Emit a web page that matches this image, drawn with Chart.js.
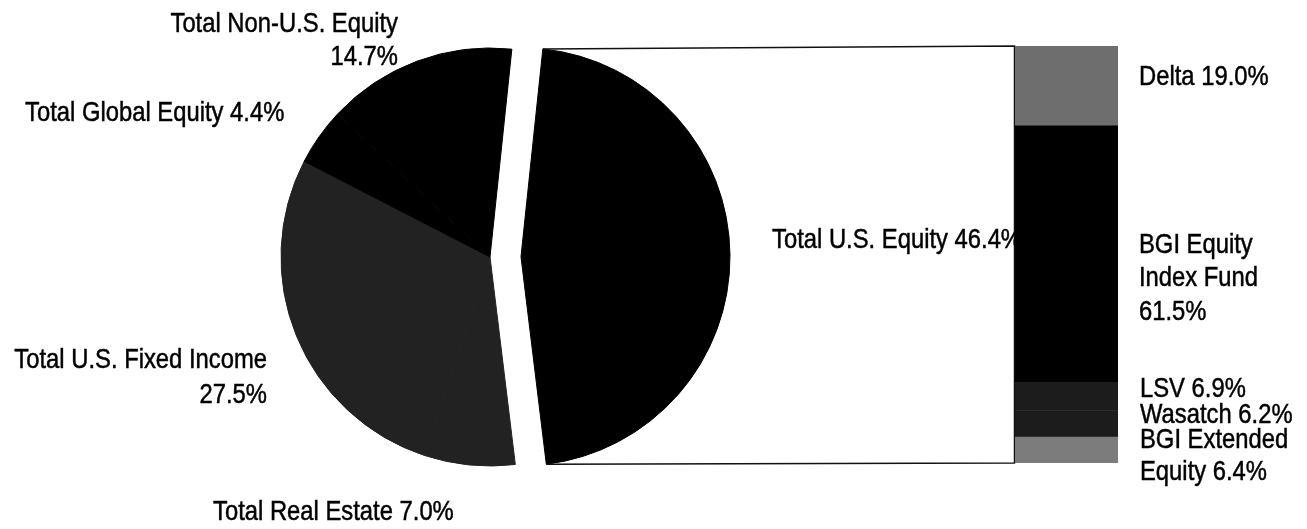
<!DOCTYPE html>
<html>
<head>
<meta charset="utf-8">
<script src="https://cdn.jsdelivr.net/npm/chart.js@4.4.1/dist/chart.umd.min.js"></script>
<style>
  html, body { margin: 0; padding: 0; background: #fff; overflow: hidden; }
  #wrap { position: relative; width: 1307px; height: 529px; }
  #pie { position: absolute; left: 0; top: 0; }
  #bar { position: absolute; left: 1015px; top: 46px; }
</style>
</head>
<body>
<div id="wrap">
  <canvas id="pie" width="1307" height="529"></canvas>
  <canvas id="bar" width="103" height="417"></canvas>
</div>
<script>
// pie slices, clockwise starting with the exploded one
const pieNames = ['Total U.S. Equity', 'Total Real Estate', 'Total U.S. Fixed Income', 'Total Global Equity', 'Total Non-U.S. Equity'];
const pieValues = [46.4, 7.0, 27.5, 4.4, 14.7];
const pieColors = ['#000000', '#222222', '#222222', '#000000', '#000000'];

// bar = split of Total U.S. Equity, top to bottom
const barNames = ['Delta', 'BGI Equity Index Fund', 'LSV', 'Wasatch', 'BGI Extended Equity'];
const barValues = [19.0, 61.5, 6.9, 6.2, 6.4];
const barColors = ['#6e6e6e', '#000000', '#1c1c1c', '#1c1c1c', '#7c7c7c'];

const pct = v => v.toFixed(1) + '%';
const explodeGap = 31;
const labelFont = '28px "Liberation Sans", Arial, sans-serif';
const squeeze = 0.85; // the original uses a narrow face

// where each label goes (baselines), text comes from the arrays above
const pieLabelSpots = [
  { x: 772, y: [248], align: 'left', lines: (n, v) => [n + ' ' + pct(v)] },
  { x: 213, y: [520], align: 'left', lines: (n, v) => [n + ' ' + pct(v)] },
  { x: 267, y: [368, 403], align: 'right', lines: (n, v) => [n, pct(v)] },
  { x: 25, y: [121], align: 'left', lines: (n, v) => [n + ' ' + pct(v)] },
  { x: 398, y: [32, 65], align: 'right', lines: (n, v) => [n, pct(v)] }
];
const barLabelSpots = [
  { x: 1139, y: [85], lines: (n, v) => [n + ' ' + pct(v)] },
  { x: 1139, y: [253, 286, 320], lines: (n, v) => ['BGI Equity', 'Index Fund', pct(v)] },
  { x: 1140, y: [397], lines: (n, v) => [n + ' ' + pct(v)] },
  { x: 1140, y: [423], lines: (n, v) => [n + ' ' + pct(v)] },
  { x: 1140, y: [448, 480], lines: (n, v) => ['BGI Extended', 'Equity ' + pct(v)] }
];

function drawText(ctx, txt, x, y, align) {
  ctx.save();
  ctx.translate(x, y);
  ctx.scale(squeeze, 1);
  ctx.textAlign = align;
  ctx.fillText(txt, 0, 0);
  ctx.strokeText(txt, 0, 0);
  ctx.restore();
}

const barCanvas = document.getElementById('bar');
const barChart = new Chart(barCanvas, {
  type: 'bar',
  data: {
    labels: ['Total U.S. Equity'],
    datasets: barNames.map((n, i) => ({
      label: n,
      data: [barValues[i]],
      backgroundColor: barColors[i],
      borderWidth: 0,
      barPercentage: 1,
      categoryPercentage: 1
    }))
  },
  options: {
    responsive: false,
    animation: false,
    events: [],
    layout: { padding: 0 },
    scales: {
      x: { display: false, stacked: true },
      y: { display: false, stacked: true, min: 0, max: 100, reverse: true }
    },
    plugins: { legend: { display: false }, tooltip: { enabled: false } }
  }
});

// pull the first slice out of the pie
const explode = {
  id: 'explode',
  afterDatasetsUpdate(chart) {
    const arc = chart.getDatasetMeta(0).data[0];
    const mid = (arc.startAngle + arc.endAngle) / 2;
    arc.x += explodeGap * Math.cos(mid);
    arc.y += explodeGap * Math.sin(mid);
  }
};

const overlay = {
  id: 'overlay',
  afterDraw(chart) {
    const ctx = chart.ctx;
    const arc = chart.getDatasetMeta(0).data[0];
    const r = arc.outerRadius;
    const ys = barChart.scales.y;
    const bx = barCanvas.offsetLeft + barChart.chartArea.left - 0.5;
    const bTop = barCanvas.offsetTop + ys.getPixelForValue(0);
    const bBot = barCanvas.offsetTop + ys.getPixelForValue(100);

    ctx.save();
    ctx.strokeStyle = '#111';
    ctx.lineWidth = 1.5;
    ctx.beginPath();
    ctx.moveTo(arc.x + r * Math.cos(arc.startAngle), arc.y + r * Math.sin(arc.startAngle));
    ctx.lineTo(bx, bTop);
    ctx.lineTo(bx, bBot);
    ctx.lineTo(arc.x + r * Math.cos(arc.endAngle), arc.y + r * Math.sin(arc.endAngle));
    ctx.stroke();

    ctx.fillStyle = '#000';
    ctx.strokeStyle = '#000';
    ctx.lineWidth = 0.5;
    ctx.font = labelFont;
    ctx.textBaseline = 'alphabetic';
    pieLabelSpots.forEach((s, i) => {
      s.lines(pieNames[i], pieValues[i]).forEach((t, k) => drawText(ctx, t, s.x, s.y[k], s.align));
    });
    barLabelSpots.forEach((s, i) => {
      s.lines(barNames[i], barValues[i]).forEach((t, k) => drawText(ctx, t, s.x, s.y[k], 'left'));
    });
    ctx.restore();
  }
};

new Chart(document.getElementById('pie'), {
  type: 'pie',
  data: {
    labels: pieNames,
    datasets: [{
      data: pieValues,
      backgroundColor: pieColors,
      borderColor: pieColors,
      borderWidth: 1
    }]
  },
  options: {
    responsive: false,
    animation: false,
    events: [],
    rotation: 6,
    radius: 209,
    layout: { padding: { left: 0, right: 327, top: 0, bottom: 15 } },
    plugins: { legend: { display: false }, tooltip: { enabled: false } }
  },
  plugins: [explode, overlay]
});
</script>
</body>
</html>
